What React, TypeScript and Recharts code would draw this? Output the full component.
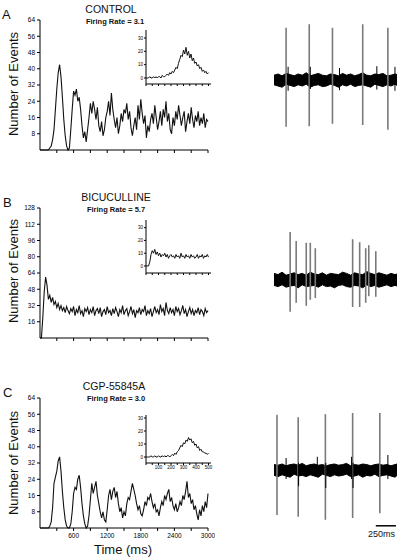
import React from "react";
import {
  LineChart, Line, XAxis, YAxis, ComposedChart, Area, ReferenceLine,
} from "recharts";

// autocorrelation bins, 25 ms each
const binTimes = [
  0, 25, 50, 75, 100, 125, 150, 175, 200, 225, 250, 275, 300, 325, 350, 375, 400, 425, 450, 475,
  500, 525, 550, 575, 600, 625, 650, 675, 700, 725, 750, 775, 800, 825, 850, 875, 900, 925, 950, 975,
  1000, 1025, 1050, 1075, 1100, 1125, 1150, 1175, 1200, 1225, 1250, 1275, 1300, 1325, 1350, 1375, 1400, 1425, 1450, 1475,
  1500, 1525, 1550, 1575, 1600, 1625, 1650, 1675, 1700, 1725, 1750, 1775, 1800, 1825, 1850, 1875, 1900, 1925, 1950, 1975,
  2000, 2025, 2050, 2075, 2100, 2125, 2150, 2175, 2200, 2225, 2250, 2275, 2300, 2325, 2350, 2375, 2400, 2425, 2450, 2475,
  2500, 2525, 2550, 2575, 2600, 2625, 2650, 2675, 2700, 2725, 2750, 2775, 2800, 2825, 2850, 2875, 2900, 2925, 2950, 2975,
  3000,
];

const controlCounts = [
  0, 0, 0, 0, 0, 0, 0, 1, 2, 5, 10, 20, 30, 38, 42, 36, 26, 15, 7, 2,
  0, 1, 10, 20, 29, 27, 30, 24, 26, 20, 12, 6, 9, 4, 10, 16, 23, 18, 24, 20,
  15, 21, 12, 9, 14, 7, 10, 16, 19, 24, 17, 28, 20, 15, 11, 16, 8, 12, 18, 14,
  20, 18, 23, 15, 19, 11, 7, 12, 16, 10, 22, 15, 25, 18, 13, 17, 6, 12, 9, 15,
  18, 13, 22, 16, 10, 14, 19, 12, 20, 16, 24, 14, 18, 10, 8, 16, 12, 19, 15, 22,
  17, 12, 16, 19, 9, 14, 18, 13, 21, 15, 11, 17, 14, 19, 12, 16, 13, 18, 11, 15,
  14,
];

const bicucullineCounts = [
  0, 0, 20, 45, 60, 52, 38, 42, 35, 40, 33, 36, 30, 34, 28, 32, 27, 30, 25, 31,
  27, 24, 29, 26, 31, 22, 28, 25, 32, 24, 27, 21, 29, 26, 30, 23, 28, 25, 31, 22,
  27, 29, 24, 30, 21, 26, 28, 23, 31, 25, 27, 22, 29, 24, 30, 26, 21, 28, 25, 32,
  23, 27, 29, 22, 26, 31, 24, 28, 20, 27, 25, 30, 23, 28, 26, 32, 22, 27, 24, 29,
  21, 26, 31, 25, 28, 23, 33, 26, 29, 22, 35, 27, 24, 30, 25, 28, 22, 31, 26, 29,
  23, 27, 32, 24, 28, 21, 26, 30, 24, 28, 22, 27, 25, 30, 23, 28, 26, 22, 29, 25,
  27,
];

const cgpCounts = [
  0, 0, 0, 0, 0, 0, 0, 1, 3, 10, 22, 25, 28, 33, 35, 28, 18, 10, 4, 1,
  0, 0, 2, 8, 17, 20, 19, 24, 26, 20, 12, 6, 2, 0, 1, 6, 14, 22, 17, 20,
  23, 16, 12, 8, 5, 8, 4, 3, 9, 16, 19, 14, 18, 20, 15, 18, 12, 8, 10, 5,
  8, 6, 12, 15, 14, 18, 22, 19, 16, 12, 9, 11, 7, 6, 9, 13, 11, 15, 14, 17,
  13, 10, 12, 8, 9, 6, 10, 13, 11, 16, 14, 17, 19, 13, 15, 11, 9, 12, 8, 10,
  13, 11, 16, 14, 18, 23, 15, 17, 12, 14, 9, 11, 7, 4, 9, 6, 11, 8, 13, 10,
  17,
];

// first 500 ms, 10 ms bins
const insetTimes = [
  0, 10, 20, 30, 40, 50, 60, 70, 80, 90, 100, 110, 120, 130, 140, 150, 160, 170, 180, 190,
  200, 210, 220, 230, 240, 250, 260, 270, 280, 290, 300, 310, 320, 330, 340, 350, 360, 370, 380, 390,
  400, 410, 420, 430, 440, 450, 460, 470, 480, 490, 500,
];
const controlInset = [
  0, 0, 0, 1, 0, 0, 1, 0, 1, 0, 1, 1, 0, 2, 1, 1, 2, 3, 2, 4,
  3, 5, 4, 6, 8, 7, 11, 14, 17, 16, 21, 18, 23, 17, 20, 15, 18, 13, 15, 11,
  12, 9, 10, 7, 8, 5, 6, 4, 5, 3, 4,
];
const bicucullineInset = [
  0, 0, 0, 3, 9, 12, 10, 13, 9, 11, 8, 10, 7, 9, 8, 10, 7, 9, 6, 8,
  9, 7, 8, 6, 9, 7, 8, 6, 10, 7, 8, 6, 9, 7, 8, 6, 9, 7, 8, 6,
  7, 9, 6, 8, 7, 9, 6, 8, 7, 9, 7,
];
const cgpInset = [
  0, 0, 0, 0, 1, 0, 0, 1, 0, 0, 1, 0, 0, 1, 0, 1, 0, 1, 1, 0,
  1, 2, 1, 3, 2, 4, 5, 7, 9, 8, 11, 10, 13, 12, 15, 13, 14, 11, 12, 9,
  10, 7, 8, 5, 6, 4, 4, 3, 3, 2, 3,
];

const xTicks = [300, 600, 900, 1200, 1500, 1800, 2100, 2400, 2700, 3000];
const yTicks64 = [8, 16, 24, 32, 40, 48, 56, 64];
const yTicks128 = [16, 32, 48, 64, 80, 96, 112, 128];
const insetXTicks = [0, 50, 100, 150, 200, 250, 300, 350, 400, 450, 500];
const insetYTicks = [0, 10, 20, 30];

// extracellular traces: noise band samples (ms) and spikes
const traceTimes = [
  0, 50, 100, 150, 200, 250, 300, 350, 400, 450, 500, 550, 600, 650, 700, 750,
  800, 850, 900, 950, 1000, 1050, 1100, 1150, 1200, 1250, 1300, 1350, 1400, 1450, 1500, 1525,
];
const controlBandHi = [0.08, 0.10, 0.07, 0.11, 0.09, 0.07, 0.10, 0.08, 0.12, 0.07, 0.09, 0.11, 0.08, 0.07, 0.10, 0.09, 0.07, 0.11, 0.08, 0.10, 0.07, 0.09, 0.12, 0.08, 0.07, 0.10, 0.09, 0.11, 0.07, 0.08, 0.10, 0.09];
const controlBandLo = [-0.08, -0.10, -0.12, -0.07, -0.09, -0.11, -0.08, -0.10, -0.07, -0.12, -0.09, -0.08, -0.11, -0.10, -0.07, -0.09, -0.12, -0.08, -0.10, -0.07, -0.11, -0.09, -0.08, -0.10, -0.12, -0.07, -0.09, -0.11, -0.08, -0.10, -0.07, -0.09];
const controlSpikeTimes = [150, 437, 725, 1100, 1412, 175, 450, 812, 1275, 1500];
const controlSpikeHi = [0.87, 0.93, 0.87, 0.93, 0.87, 0.22, 0.22, 0.2, 0.23, 0.22];
const controlSpikeLo = [-0.78, -0.77, -0.73, -0.75, -0.83, -0.18, -0.15, -0.17, -0.16, -0.18];

const bicBandHi = [0.11, 0.09, 0.13, 0.08, 0.10, 0.12, 0.09, 0.11, 0.08, 0.13, 0.10, 0.09, 0.12, 0.08, 0.11, 0.10, 0.09, 0.13, 0.11, 0.08, 0.12, 0.10, 0.09, 0.14, 0.11, 0.09, 0.12, 0.10, 0.08, 0.11, 0.09, 0.10];
const bicBandLo = [-0.09, -0.11, -0.08, -0.12, -0.10, -0.09, -0.13, -0.08, -0.11, -0.10, -0.09, -0.12, -0.08, -0.11, -0.10, -0.13, -0.09, -0.08, -0.11, -0.12, -0.09, -0.10, -0.13, -0.08, -0.11, -0.09, -0.12, -0.10, -0.08, -0.11, -0.09, -0.10];
const bicSpikeTimes = [200, 275, 400, 450, 512, 975, 1062, 1137, 1175, 1262];
const bicSpikeHi = [0.8, 0.65, 0.62, 0.62, 0.53, 0.68, 0.63, 0.53, 0.58, 0.48];
const bicSpikeLo = [-0.53, -0.38, -0.43, -0.33, -0.3, -0.45, -0.45, -0.38, -0.27, -0.28];

const cgpBandHi = [0.09, 0.08, 0.10, 0.07, 0.09, 0.10, 0.08, 0.11, 0.07, 0.09, 0.10, 0.08, 0.09, 0.07, 0.09, 0.10, 0.08, 0.09, 0.11, 0.07, 0.09, 0.08, 0.10, 0.09, 0.07, 0.09, 0.10, 0.08, 0.09, 0.07, 0.09, 0.10];
const cgpBandLo = [-0.09, -0.11, -0.08, -0.10, -0.12, -0.07, -0.10, -0.09, -0.11, -0.08, -0.10, -0.12, -0.07, -0.09, -0.11, -0.08, -0.10, -0.09, -0.07, -0.11, -0.10, -0.08, -0.12, -0.09, -0.10, -0.07, -0.11, -0.09, -0.08, -0.10, -0.12, -0.09];
const cgpSpikeTimes = [37, 300, 637, 975, 1312, 150, 537, 962, 1412, 305, 642, 980];
const cgpSpikeHi = [0.92, 0.88, 0.93, 0.95, 0.95, 0.2, 0.22, 0.22, 0.25, 0.12, 0.12, 0.12];
const cgpSpikeLo = [-0.75, -0.78, -0.83, -0.8, -0.72, -0.15, -0.12, -0.15, -0.15, -0.27, -0.3, -0.3];

const scaleBarMs = [1262, 1512];

const FONT = "'Liberation Sans', Arial, sans-serif";
const tickStyle = { fontSize: 6.5, fill: "#000", fontFamily: FONT };

function rows(times: number[], values: number[]) {
  return times.map((t, i) => ({ t, v: values[i] }));
}

function Histogram({ top, counts, yMax, yTicks, showLabels }: {
  top: number; counts: number[]; yMax: number; yTicks: number[]; showLabels: boolean;
}) {
  const xh = showLabels ? 20 : 10;
  return (
    <div style={{ position: "absolute", left: 0, top }}>
      <LineChart width={215} height={20 + 130 + xh} data={rows(binTimes, counts)}
        margin={{ top: 20, right: 7, bottom: 0, left: 0 }}>
        <XAxis dataKey="t" type="number" domain={[0, 3000]} ticks={xTicks} interval={0}
          height={xh} tickSize={3} tickMargin={2} stroke="#000" tick={tickStyle}
          tickFormatter={(v: number) => (showLabels && v % 600 === 0 ? String(v) : "")} />
        <YAxis type="number" domain={[0, yMax]} ticks={yTicks} interval={0} width={40}
          tickSize={3} tickMargin={2} stroke="#000" tick={tickStyle} />
        <Line dataKey="v" type="linear" stroke="#111" strokeWidth={1.1} dot={false}
          activeDot={false} isAnimationActive={false} />
      </LineChart>
    </div>
  );
}

function Inset({ top, height, values, domain, showLabels }: {
  top: number; height: number; values: number[]; domain: number[]; showLabels: boolean;
}) {
  const xh = showLabels ? 9 : 3;
  return (
    <div style={{ position: "absolute", left: 132, top: top - 2 }}>
      <LineChart width={81} height={2 + height + xh} data={rows(insetTimes, values)}
        margin={{ top: 2, right: 2, bottom: 0, left: 0 }}>
        <XAxis dataKey="t" type="number" domain={[0, 520]} ticks={insetXTicks} interval={0}
          height={xh} tickSize={2} tickMargin={1} stroke="#000"
          tick={{ fontSize: 4.5, fill: "#000", fontFamily: FONT }}
          tickFormatter={(v: number) => (showLabels && v > 0 && v % 100 === 0 ? String(v) : "")} />
        <YAxis type="number" domain={domain} ticks={insetYTicks} interval={0} width={14}
          tickSize={2} tickMargin={1} stroke="#000"
          tick={{ fontSize: 4.5, fill: "#000", fontFamily: FONT }} />
        <Line dataKey="v" type="linear" stroke="#111" strokeWidth={1} dot={false}
          activeDot={false} isAnimationActive={false} />
      </LineChart>
    </div>
  );
}

function Trace({ top, height, yMin, hi, lo, spikeT, spikeHi, spikeLo, scaleBar }: {
  top: number; height: number; yMin: number; hi: number[]; lo: number[];
  spikeT: number[]; spikeHi: number[]; spikeLo: number[]; scaleBar?: boolean;
}) {
  const data = traceTimes.map((t, i) => ({ t, band: [lo[i], hi[i]] }));
  return (
    <div style={{ position: "absolute", left: 274, top }}>
      <ComposedChart width={123} height={height} data={data}
        margin={{ top: 0, right: 0, bottom: 0, left: 0 }}>
        <XAxis dataKey="t" type="number" domain={[0, 1525]} hide />
        <YAxis type="number" domain={[yMin, 1]} hide width={0} />
        <Area dataKey="band" type="linear" stroke="#000" strokeWidth={1} fill="#000"
          fillOpacity={1} dot={false} activeDot={false} isAnimationActive={false} />
        {spikeT.map((t, i) => {
          const big = spikeHi[i] - spikeLo[i] > 0.7;
          return (
            <ReferenceLine key={i} segment={[{ x: t, y: spikeLo[i] }, { x: t, y: spikeHi[i] }]}
              stroke={big ? "#7a7a7a" : "#000"} strokeWidth={big ? 1.6 : 1} />
          );
        })}
        {scaleBar && (
          <ReferenceLine segment={[{ x: scaleBarMs[0], y: -0.93 }, { x: scaleBarMs[1], y: -0.93 }]}
            stroke="#000" strokeWidth={1.5} />
        )}
      </ComposedChart>
    </div>
  );
}

export default function App() {
  const vLabel = (cy: number) => (
    <text x={0} y={0} transform={`translate(18 ${cy}) rotate(-90)`} textAnchor="middle"
      fontSize={13} fill="#111">Number of Events</text>
  );
  return (
    <div style={{ position: "fixed", left: 0, top: 0, width: 397, height: 560, background: "#fff", overflow: "hidden" }}>
      <Histogram top={0} counts={controlCounts} yMax={64} yTicks={yTicks64} showLabels={false} />
      <Histogram top={188} counts={bicucullineCounts} yMax={128} yTicks={yTicks128} showLabels={false} />
      <Histogram top={378} counts={cgpCounts} yMax={64} yTicks={yTicks64} showLabels={true} />

      <Inset top={30} height={54} values={controlInset} domain={[-4.5, 36]} showLabels={false} />
      <Inset top={220} height={53} values={bicucullineInset} domain={[-5.5, 36]} showLabels={false} />
      <Inset top={415} height={48} values={cgpInset} domain={[-4.6, 32.3]} showLabels={true} />

      <Trace top={20} height={120} yMin={-1} hi={controlBandHi} lo={controlBandLo}
        spikeT={controlSpikeTimes} spikeHi={controlSpikeHi} spikeLo={controlSpikeLo} />
      <Trace top={220} height={120} yMin={-1} hi={bicBandHi} lo={bicBandLo}
        spikeT={bicSpikeTimes} spikeHi={bicSpikeHi} spikeLo={bicSpikeLo} />
      <Trace top={410} height={132} yMin={-1.2} hi={cgpBandHi} lo={cgpBandLo}
        spikeT={cgpSpikeTimes} spikeHi={cgpSpikeHi} spikeLo={cgpSpikeLo} scaleBar />

      <svg width={397} height={560} style={{ position: "absolute", left: 0, top: 0, pointerEvents: "none" }}
        fontFamily={FONT}>
        <text x={2} y={19} fontSize={13} fill="#111">A</text>
        <text x={111} y={13} fontSize={10.5} textAnchor="middle" fill="#111">CONTROL</text>
        <text x={115} y={24} fontSize={7.5} fontWeight="bold" textAnchor="middle" fill="#111">Firing Rate = 3.1</text>
        {vLabel(84)}

        <text x={3} y={207} fontSize={13} fill="#111">B</text>
        <text x={116} y={201} fontSize={10.5} textAnchor="middle" fill="#111">BICUCULLINE</text>
        <text x={116} y={212} fontSize={7.5} fontWeight="bold" textAnchor="middle" fill="#111">Firing Rate = 5.7</text>
        {vLabel(271)}

        <text x={3} y={397} fontSize={13} fill="#111">C</text>
        <text x={114} y={390} fontSize={10.5} textAnchor="middle" fill="#111">CGP-55845A</text>
        <text x={116} y={401} fontSize={7.5} fontWeight="bold" textAnchor="middle" fill="#111">Firing Rate = 3.0</text>
        {vLabel(463)}

        <text x={123} y={554} fontSize={13} textAnchor="middle" fill="#111">Time (ms)</text>
        <text x={395} y={537} fontSize={9} textAnchor="end" fill="#111">250ms</text>
      </svg>
    </div>
  );
}
